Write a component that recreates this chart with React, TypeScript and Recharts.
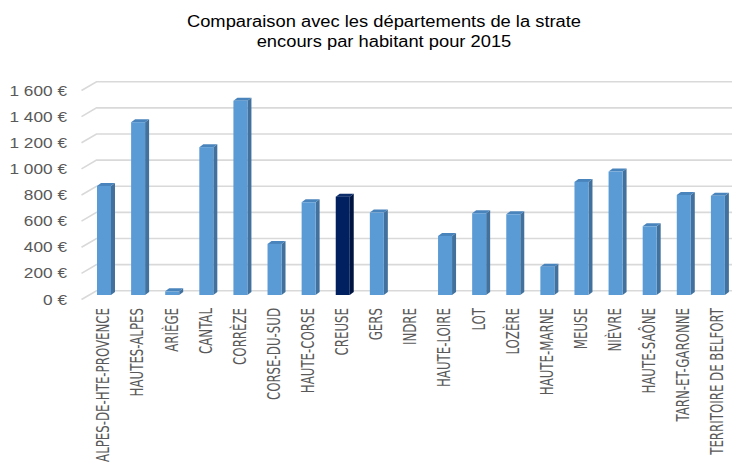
import React from "react";
import { BarChart, Bar, XAxis, YAxis, CartesianGrid } from "recharts";

const categories = [
  "ALPES-DE-HTE-PROVENCE",
  "HAUTES-ALPES",
  "ARIÈGE",
  "CANTAL",
  "CORRÈZE",
  "CORSE-DU-SUD",
  "HAUTE-CORSE",
  "CREUSE",
  "GERS",
  "INDRE",
  "HAUTE-LOIRE",
  "LOT",
  "LOZÈRE",
  "HAUTE-MARNE",
  "MEUSE",
  "NIÈVRE",
  "HAUTE-SAÔNE",
  "TARN-ET-GARONNE",
  "TERRITOIRE DE BELFORT",
];
const encoursParHabitant: (number | null)[] = [
  835, 1323, 28, 1132, 1487, 391, 710, 753, 631, null, 452, 626, 618, 217, 866, 945, 526, 766, 759,
];
const highlighted = "CREUSE";
const yTicks = [0, 200, 400, 600, 800, 1000, 1200, 1400, 1600];
const titleLines = ["Comparaison avec les départements de la strate", "encours par habitant pour 2015"];

const data = categories.map((name, i) => ({ name, value: encoursParHabitant[i] }));

const fmtEuro = (v: number) =>
  v >= 1000 ? `${Math.floor(v / 1000)} ${String(v % 1000).padStart(3, "0")} €` : `${v} €`;

const Bar3D = (props: any) => {
  const { x, y, width, height, payload } = props;
  if (payload == null || payload.value == null || !height || height <= 0) return null;
  const dx = 4;
  const dy = 3;
  const hl = payload.name === highlighted;
  const front = hl ? "#002060" : "#5B9BD5";
  const side = hl ? "#001440" : "#41719C";
  const top = hl ? "#0d2d6b" : "#4A84BD";
  return (
    <g>
      <path
        d={`M${x + width},${y} L${x + width + dx},${y - dy} L${x + width + dx},${y + height - dy} L${x + width},${y + height} Z`}
        fill={side}
      />
      <path
        d={`M${x},${y} L${x + dx},${y - dy} L${x + width + dx},${y - dy} L${x + width},${y} Z`}
        fill={top}
      />
      <rect x={x} y={y} width={width} height={height} fill={front} />
    </g>
  );
};

const GridLine = (p: any) => {
  const { x1, x2, y1, key } = p;
  return (
    <path
      key={key}
      d={`M${x1 - 5.5},${y1 + 4.5} L${x1 + 9.5},${y1 - 4.3} L${x2 + 10},${y1 - 4.3}`}
      stroke="#D9D9D9"
      strokeWidth={1.6}
      fill="none"
    />
  );
};

const YTick = (p: any) => {
  const { y, payload } = p;
  return (
    <text
      transform={`translate(67,${y + 4}) scale(1.15,1)`}
      x={0}
      y={0}
      textAnchor="end"
      dominantBaseline="central"
      fontFamily="'Liberation Sans', Arial, sans-serif"
      fontSize={15}
      fill="#595959"
    >
      {fmtEuro(payload.value)}
    </text>
  );
};

const XTick = (p: any) => {
  const { x, payload } = p;
  return (
    <text
      transform={`translate(${x - 1},308) rotate(-90) scale(0.82,1.15)`}
      x={0}
      y={0}
      textAnchor="end"
      dominantBaseline="central"
      fontFamily="'Liberation Sans Narrow', 'DejaVu Sans Condensed', sans-serif"
      fontSize={16}
      fill="#595959"
    >
      {payload.value}
    </text>
  );
};

export default function App() {
  return (
    <div
      style={{
        position: "absolute",
        left: 0,
        top: 0,
        width: 732,
        height: 467,
        overflow: "hidden",
        background: "#ffffff",
      }}
    >
      <BarChart
        width={745}
        height={467}
        data={data}
        margin={{ top: 86, right: 10, left: 0, bottom: 0 }}
        style={{ position: "absolute", left: 0, top: 0 }}
      >
        <CartesianGrid vertical={false} horizontal={GridLine as any} />
        <XAxis
          dataKey="name"
          interval={0}
          tickLine={false}
          axisLine={false}
          height={172}
          tick={XTick as any}
        />
        <YAxis
          width={87}
          domain={[0, 1600]}
          ticks={yTicks}
          tickLine={false}
          axisLine={false}
          tick={YTick as any}
        />
        <Bar dataKey="value" barSize={14} isAnimationActive={false} shape={Bar3D as any} />
      </BarChart>
      <div
        style={{
          position: "absolute",
          left: 84,
          top: 12,
          width: 600,
          textAlign: "center",
          fontFamily: "'Liberation Sans', Arial, sans-serif",
          fontSize: 16,
          lineHeight: "20px",
          color: "#000",
          transform: "scaleX(1.145)",
          transformOrigin: "300px 0",
          whiteSpace: "nowrap",
        }}
      >
        <div>{titleLines[0]}</div>
        <div>{titleLines[1]}</div>
      </div>
    </div>
  );
}
